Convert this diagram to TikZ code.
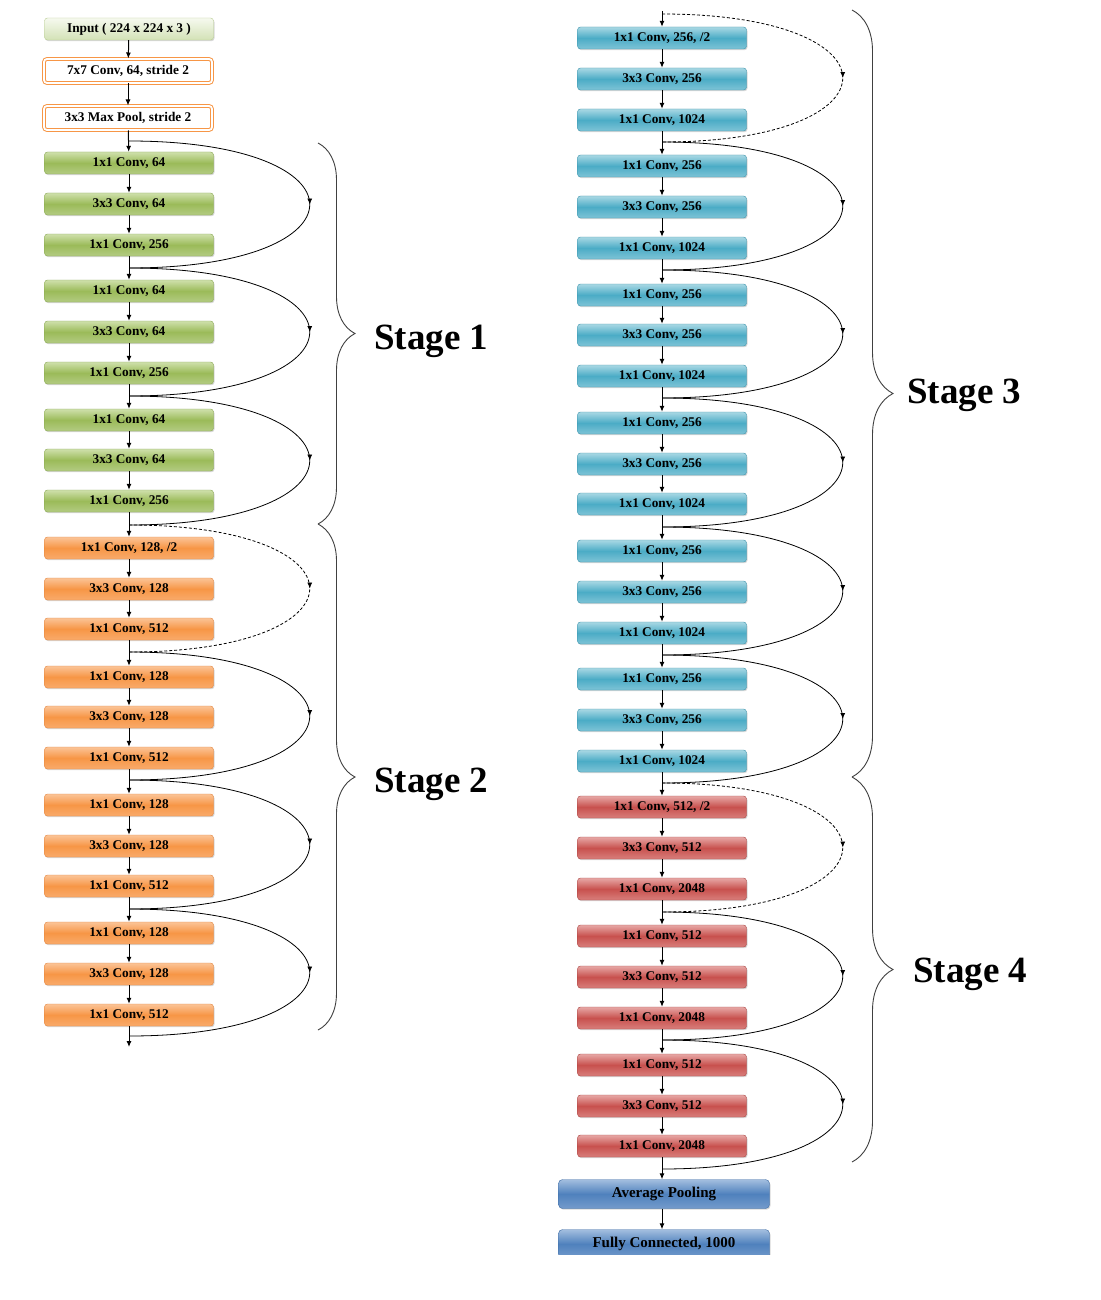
\documentclass[tikz,border=0pt]{standalone}
\usepackage{fontspec}
\setmainfont{Liberation Serif}
\usetikzlibrary{arrows.meta,decorations.markings,decorations.pathreplacing,shadows}

\definecolor{intop}{HTML}{F6F9EF}
\definecolor{inbot}{HTML}{D3E2B6}
\definecolor{inline}{HTML}{B7CC90}
\definecolor{grtop}{HTML}{CFE0AC}
\definecolor{grmid}{HTML}{9BBB59}
\definecolor{grbot}{HTML}{B3CB82}
\definecolor{grline}{HTML}{87A64F}
\definecolor{ortop}{HTML}{FBC497}
\definecolor{ormid}{HTML}{F79646}
\definecolor{orbot}{HTML}{F9AB6B}
\definecolor{orline}{HTML}{E2833B}
\definecolor{aqtop}{HTML}{A9D8E4}
\definecolor{aqmid}{HTML}{4BACC6}
\definecolor{aqbot}{HTML}{7EC3D6}
\definecolor{aqline}{HTML}{3A92AA}
\definecolor{rdtop}{HTML}{E7A8A6}
\definecolor{rdmid}{HTML}{C8514E}
\definecolor{rdbot}{HTML}{D87E7B}
\definecolor{rdline}{HTML}{A84442}
\definecolor{bltop}{HTML}{A3BEDF}
\definecolor{blmid}{HTML}{4F81BD}
\definecolor{blbot}{HTML}{749BCB}
\definecolor{blline}{HTML}{3D6BA3}

\tikzset{
  box/.style={rounded corners=3pt, minimum width=169pt, minimum height=22pt,
    inner sep=0pt, font=\fontsize{13.3}{15}\selectfont\bfseries,
    drop shadow={shadow xshift=1pt, shadow yshift=-1.2pt, opacity=0.3}},
  inbox/.style={box, draw=inline, top color=intop, bottom color=inbot},
  stembox/.style={box, drop shadow={opacity=0}, fill=white, draw=ormid, line width=1pt,
    double=white, double distance=1.8pt, minimum width=168pt, minimum height=24pt},
  greenbox/.style={box, draw=grline, top color=grtop, bottom color=grbot, middle color=grmid},
  orangebox/.style={box, draw=orline, top color=ortop, bottom color=orbot, middle color=ormid},
  aquabox/.style={box, draw=aqline, top color=aqtop, bottom color=aqbot, middle color=aqmid},
  redbox/.style={box, draw=rdline, top color=rdtop, bottom color=rdbot, middle color=rdmid},
  poolbox/.style={box, draw=blline, top color=bltop, bottom color=blbot, middle color=blmid,
    minimum width=211pt, minimum height=29pt, rounded corners=4pt,
    font=\fontsize{15}{17}\selectfont\bfseries},
  flow/.style={draw=black, line width=1pt, -{Latex[length=6pt,width=5pt]}},
  skip/.style={draw=black, line width=0.8pt,
    to path={.. controls +(241,0) and +(241,0) .. (\tikztotarget)},
    postaction={decorate},
    decoration={markings, mark=at position 0.5 with {\arrow{Latex[length=6pt,width=5pt]}}}},
  dashskip/.style={skip, dash pattern=on 3pt off 2pt},
  stagebrace/.style={draw=black!75, line width=0.9pt, decorate, decoration={brace, amplitude=#1}},
  stagelabel/.style={anchor=base west, inner sep=0pt, font=\fontsize{37}{40}\selectfont\bfseries}
}

\begin{document}
\begin{tikzpicture}[x=1pt, y=-1pt]
  \useasboundingbox (0,0) rectangle (1100,1300);
  \fill[white] (0,0) rectangle (1100,1300);

  % stem
  \node[inbox] (in) at (129,29) {Input ( 224 x 224 x 3 )};
  \node[stembox] (conv1) at (128,71) {7x7 Conv, 64, stride 2};
  \node[stembox] (pool1) at (128,118) {3x3 Max Pool, stride 2};

  % stage 1
  \begin{scope}[every node/.style={greenbox}]
    \node (g1) at (129,163) {1x1 Conv, 64};
    \node (g2) at (129,204) {3x3 Conv, 64};
    \node (g3) at (129,245) {1x1 Conv, 256};
    \node (g4) at (129,291) {1x1 Conv, 64};
    \node (g5) at (129,332) {3x3 Conv, 64};
    \node (g6) at (129,373) {1x1 Conv, 256};
    \node (g7) at (129,420) {1x1 Conv, 64};
    \node (g8) at (129,460) {3x3 Conv, 64};
    \node (g9) at (129,501) {1x1 Conv, 256};
  \end{scope}

  % stage 2
  \begin{scope}[every node/.style={orangebox}]
    \node (o1) at (129,548) {1x1 Conv, 128, /2};
    \node (o2) at (129,589) {3x3 Conv, 128};
    \node (o3) at (129,629) {1x1 Conv, 512};
    \node (o4) at (129,677) {1x1 Conv, 128};
    \node (o5) at (129,717) {3x3 Conv, 128};
    \node (o6) at (129,758) {1x1 Conv, 512};
    \node (o7) at (129,805) {1x1 Conv, 128};
    \node (o8) at (129,846) {3x3 Conv, 128};
    \node (o9) at (129,886) {1x1 Conv, 512};
    \node (o10) at (129,933) {1x1 Conv, 128};
    \node (o11) at (129,974) {3x3 Conv, 128};
    \node (o12) at (129,1015) {1x1 Conv, 512};
  \end{scope}

  % stage 3
  \begin{scope}[every node/.style={aquabox}]
    \node (b1) at (662,38) {1x1 Conv, 256, /2};
    \node (b2) at (662,79) {3x3 Conv, 256};
    \node (b3) at (662,120) {1x1 Conv, 1024};
    \node (b4) at (662,166) {1x1 Conv, 256};
    \node (b5) at (662,207) {3x3 Conv, 256};
    \node (b6) at (662,248) {1x1 Conv, 1024};
    \node (b7) at (662,295) {1x1 Conv, 256};
    \node (b8) at (662,335) {3x3 Conv, 256};
    \node (b9) at (662,376) {1x1 Conv, 1024};
    \node (b10) at (662,423) {1x1 Conv, 256};
    \node (b11) at (662,464) {3x3 Conv, 256};
    \node (b12) at (662,504) {1x1 Conv, 1024};
    \node (b13) at (662,551) {1x1 Conv, 256};
    \node (b14) at (662,592) {3x3 Conv, 256};
    \node (b15) at (662,633) {1x1 Conv, 1024};
    \node (b16) at (662,679) {1x1 Conv, 256};
    \node (b17) at (662,720) {3x3 Conv, 256};
    \node (b18) at (662,761) {1x1 Conv, 1024};
  \end{scope}

  % stage 4
  \begin{scope}[every node/.style={redbox}]
    \node (r1) at (662,807) {1x1 Conv, 512, /2};
    \node (r2) at (662,848) {3x3 Conv, 512};
    \node (r3) at (662,889) {1x1 Conv, 2048};
    \node (r4) at (662,936) {1x1 Conv, 512};
    \node (r5) at (662,977) {3x3 Conv, 512};
    \node (r6) at (662,1018) {1x1 Conv, 2048};
    \node (r7) at (662,1065) {1x1 Conv, 512};
    \node (r8) at (662,1106) {3x3 Conv, 512};
    \node (r9) at (662,1146) {1x1 Conv, 2048};
  \end{scope}

  % head
  \node[poolbox] (avg) at (664,1194) {Average Pooling};
  \begin{scope}
    \clip (0,0) rectangle (1100,1254);
    \node[poolbox] (fc) at (664,1244) {Fully Connected, 1000};
  \end{scope}

  % junctions of the shortcuts
  \coordinate (j1) at (129,141);
  \coordinate (j2) at (129,268);
  \coordinate (j3) at (129,396);
  \coordinate (j4) at (129,525);
  \coordinate (j5) at (129,652);
  \coordinate (j6) at (129,780);
  \coordinate (j7) at (129,909);
  \coordinate (j8) at (129,1036);
  \coordinate (out) at (129,1047);
  \coordinate (top) at (662,11);
  \coordinate (k1) at (662,14);
  \coordinate (k2) at (662,142);
  \coordinate (k3) at (662,270);
  \coordinate (k4) at (662,398);
  \coordinate (k5) at (662,527);
  \coordinate (k6) at (662,655);
  \coordinate (k7) at (662,783);
  \coordinate (k8) at (662,912);
  \coordinate (k9) at (662,1040);
  \coordinate (k10) at (662,1169);

  \begin{scope}[every edge/.style={flow}]
    \path (in) edge (conv1);
    \path (conv1) edge (pool1);
    \path (pool1) edge (g1);
    \path (g1) edge (g2);
    \path (g2) edge (g3);
    \path (g3) edge (g4);
    \path (g4) edge (g5);
    \path (g5) edge (g6);
    \path (g6) edge (g7);
    \path (g7) edge (g8);
    \path (g8) edge (g9);
    \path (g9) edge (o1);
    \path (o1) edge (o2);
    \path (o2) edge (o3);
    \path (o3) edge (o4);
    \path (o4) edge (o5);
    \path (o5) edge (o6);
    \path (o6) edge (o7);
    \path (o7) edge (o8);
    \path (o8) edge (o9);
    \path (o9) edge (o10);
    \path (o10) edge (o11);
    \path (o11) edge (o12);
    \path (o12) edge (out);
    \path (top) edge (b1);
    \path (b1) edge (b2);
    \path (b2) edge (b3);
    \path (b3) edge (b4);
    \path (b4) edge (b5);
    \path (b5) edge (b6);
    \path (b6) edge (b7);
    \path (b7) edge (b8);
    \path (b8) edge (b9);
    \path (b9) edge (b10);
    \path (b10) edge (b11);
    \path (b11) edge (b12);
    \path (b12) edge (b13);
    \path (b13) edge (b14);
    \path (b14) edge (b15);
    \path (b15) edge (b16);
    \path (b16) edge (b17);
    \path (b17) edge (b18);
    \path (b18) edge (r1);
    \path (r1) edge (r2);
    \path (r2) edge (r3);
    \path (r3) edge (r4);
    \path (r4) edge (r5);
    \path (r5) edge (r6);
    \path (r6) edge (r7);
    \path (r7) edge (r8);
    \path (r8) edge (r9);
    \path (r9.south) edge (r9.south |- avg.north);
    \path (r9.south |- avg.south) edge (r9.south |- fc.north);
  \end{scope}

  % shortcuts
  \draw[skip] (j1) to (j2);
  \draw[skip] (j2) to (j3);
  \draw[skip] (j3) to (j4);
  \draw[dashskip] (j4) to (j5);
  \draw[skip] (j5) to (j6);
  \draw[skip] (j6) to (j7);
  \draw[skip] (j7) to (j8);
  \draw[dashskip] (k1) to (k2);
  \draw[skip] (k2) to (k3);
  \draw[skip] (k3) to (k4);
  \draw[skip] (k4) to (k5);
  \draw[skip] (k5) to (k6);
  \draw[skip] (k6) to (k7);
  \draw[dashskip] (k7) to (k8);
  \draw[skip] (k8) to (k9);
  \draw[skip] (k9) to (k10);

  % stages
  \draw[stagebrace=37pt] (318,143) -- (318,524);
  \draw[stagebrace=37pt] (318,524) -- (318,1030);
  \draw[stagebrace=41pt] (852,10) -- (852,777);
  \draw[stagebrace=41pt] (852,777) -- (852,1162);
  \node[stagelabel] (st1) at (374,349) {Stage 1};
  \node[stagelabel] (st2) at (374,792) {Stage 2};
  \node[stagelabel] (st3) at (907,403) {Stage 3};
  \node[stagelabel] (st4) at (913,982) {Stage 4};
\end{tikzpicture}
\end{document}
